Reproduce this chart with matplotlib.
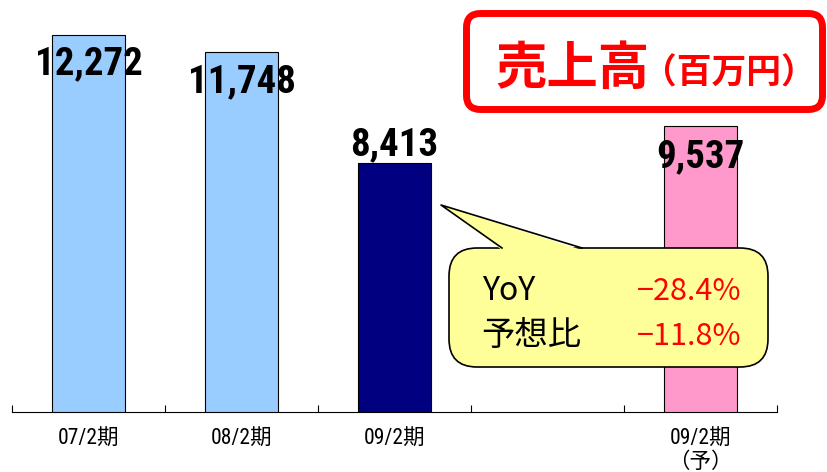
import matplotlib.pyplot as plt
import numpy as np
from matplotlib import font_manager
from matplotlib.patches import FancyBboxPatch, Polygon

# -----------------------------
# Data (sales, million yen)
# -----------------------------
PERIODS = ["07/2期", "08/2期", "09/2期", "", "09/2期\n（予）"]
SALES = [12272, 11748, 8413, None, 9537]
BAR_COLORS = ["#99CCFF", "#99CCFF", "#000080", None, "#FF99CC"]
LABEL_OFFSETS_PX = [-29, -29, 18, None, -31]  # value label centre vs bar top

TITLE = "売上高"
UNIT = "（百万円）"

DPI = 100
W, H = 828, 472
Y_MIN, Y_MAX = 900, 13328

installed = {f.name for f in font_manager.fontManager.ttflist}
CJK = "Noto Sans CJK JP"
narrow = next((n for n in ["Liberation Sans Narrow", "Roboto Condensed"] if n in installed), CJK)
MIXED = [narrow, CJK]

# YoY and vs-forecast for the latest actual period
actual, prev, forecast = SALES[2], SALES[1], SALES[4]
yoy = (actual / prev - 1) * 100
vs_plan = (actual / forecast - 1) * 100

fig = plt.figure(figsize=(W / DPI, H / DPI), dpi=DPI)
ax = fig.add_axes([12 / W, (H - 412) / H, 765 / W, 412 / H])

x = np.arange(len(PERIODS)) + 0.5
for xi, val, col, off in zip(x, SALES, BAR_COLORS, LABEL_OFFSETS_PX):
    if val is None:
        continue
    ax.bar(xi, val, width=0.48, color=col, edgecolor="black", linewidth=0.8, zorder=2)
    ax.annotate(f"{val:,}", (xi, val), xytext=(0, off * 0.72), textcoords="offset points",
                ha="center", va="center", fontsize=28, fontweight="bold",
                family=MIXED, color="black", zorder=3)

ax.set_xlim(0, len(PERIODS))
ax.set_ylim(Y_MIN, Y_MAX)
ax.set_xticks(np.arange(len(PERIODS) + 1))
ax.set_xticklabels([])
ax.set_xticks(x, minor=True)
ax.set_xticklabels(PERIODS, minor=True, family=MIXED, fontsize=15.5, linespacing=1.15)
ax.tick_params(axis="x", which="major", direction="in", length=5, width=0.8)
ax.tick_params(axis="x", which="minor", length=0, pad=12)
ax.set_yticks([])
for side in ["left", "right", "top"]:
    ax.spines[side].set_visible(False)
ax.spines["bottom"].set_linewidth(0.8)
ax.patch.set_alpha(0)

# overlay in pixel units for the title box and the callout
ov = fig.add_axes([0, 0, 1, 1], zorder=5)
ov.set_xlim(0, W)
ov.set_ylim(H, 0)
ov.axis("off")

title_box = FancyBboxPatch((466.5, 13.5), 356, 96, boxstyle="round,pad=0,rounding_size=14",
                           facecolor="white", edgecolor="#FF0000", linewidth=5)
ov.add_patch(title_box)
ov.text(495, 84, TITLE, family=CJK, fontsize=37, fontweight="bold", color="#FF0000",
        ha="left", va="baseline")
ov.text(642, 84, UNIT, family=CJK, fontsize=25, fontweight="bold", color="#FF0000",
        ha="left", va="baseline")

# speech bubble pointing at the latest bar
yellow = "#FFFF99"
tip, b1, b2 = (441, 205), (502, 248), (582, 248)
body = FancyBboxPatch((449, 248), 319, 119, boxstyle="round,pad=0,rounding_size=28",
                      facecolor=yellow, edgecolor="black", linewidth=1.2)
ov.add_patch(body)
ov.add_patch(Polygon([tip, (b1[0], b1[1] + 2), (b2[0], b2[1] + 2)], closed=True,
                     facecolor=yellow, edgecolor="none"))
ov.plot([b1[0], tip[0], b2[0]], [b1[1], tip[1], b2[1]], color="black", linewidth=1.2)

ov.text(482, 300, "YoY", family=CJK, fontsize=23, color="black", ha="left", va="baseline")
ov.text(481, 345, "予想比", family=CJK, fontsize=24, color="black", ha="left", va="baseline")
ov.text(742, 300, f"−{abs(yoy):.1f}%", family=CJK, fontsize=22, color="#FF0000",
        ha="right", va="baseline")
ov.text(742, 345, f"−{abs(vs_plan):.1f}%", family=CJK, fontsize=22, color="#FF0000",
        ha="right", va="baseline")

fig.savefig("out.png", dpi=DPI)
